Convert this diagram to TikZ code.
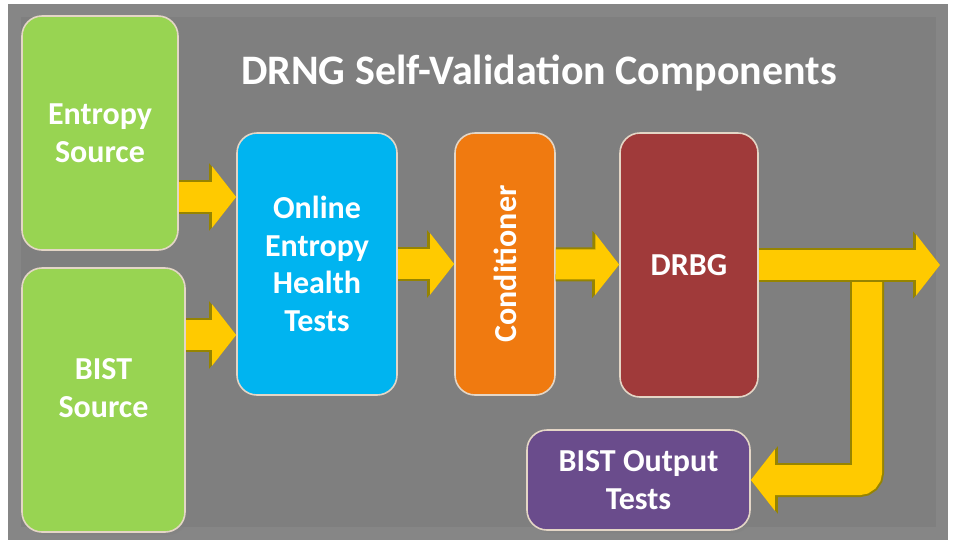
\documentclass[tikz,border=0pt]{standalone}
\usepackage{fontspec}
\setmainfont{Carlito}
\usetikzlibrary{arrows.meta,shadows}

\definecolor{framegray}{RGB}{134,134,134}
\definecolor{panelgray}{RGB}{127,127,127}
\definecolor{boxedge}{RGB}{228,214,198}
\definecolor{srcgreen}{RGB}{152,212,82}
\definecolor{testblue}{RGB}{0,180,240}
\definecolor{condorange}{RGB}{240,122,16}
\definecolor{drbgred}{RGB}{160,58,58}
\definecolor{outpurple}{RGB}{106,76,140}
\definecolor{arrowyellow}{RGB}{255,202,0}
\definecolor{arrowedge}{RGB}{150,132,0}

\begin{document}
\begin{tikzpicture}[x=0.5pt,y=-0.5pt,
    boxfont/.style={text=white, font=\bfseries\fontsize{16}{18.75}\selectfont, align=center},
    box/.style={boxfont, draw=boxedge, line width=0.8pt, rounded corners=10pt, inner sep=0pt,
        drop shadow={opacity=0.35, shadow xshift=1.5pt, shadow yshift=-1.5pt}},
    flow/.style={line width=15pt, color=arrowyellow, -{Triangle[width=30pt,length=12pt]},
        preaction={draw=arrowedge, line width=17pt, -{Triangle[width=33pt,length=13.5pt]}}}]
        \useasboundingbox (0,0) rectangle (954,548);

        % Draw the panel
        \fill[white] (0,0) rectangle (954,548);
        \fill[framegray] (8,4) rectangle (948,540);
        \fill[panelgray] (21,17) rectangle (936,527);

        % Draw the title
        \node[text=white, font=\bfseries\fontsize{21}{24}\selectfont] (ttl) at (539,73) {DRNG Self-Validation Components};

        % Draw the blocks
        \node[box, fill=srcgreen, minimum width=78pt, minimum height=117pt] (ent) at (100,133) {Entropy\\Source};
        \node[box, fill=srcgreen, minimum width=81.5pt, minimum height=132pt,
            label={[boxfont, yshift=6pt]center:BIST\\Source}] (bsrc) at (103.5,400) {};
        \node[box, fill=testblue, minimum width=80pt, minimum height=131pt] (oeht) at (317,264) {Online\\Entropy\\Health\\Tests};
        \node[box, fill=condorange, minimum width=50pt, minimum height=131pt] (cond) at (505,264) {\rotatebox{90}{Conditioner}};
        \node[box, fill=drbgred, minimum width=69pt, minimum height=132pt] (drbg) at (689,265) {DRBG};
        \node[box, fill=outpurple, minimum width=111.5pt, minimum height=50pt] (bout) at (638.5,480) {BIST Output\\Tests};

        % Draw the arrows
        \coordinate (out) at (940,265);
        \coordinate (tap) at (867,265);
        \draw[flow] ([yshift=-32pt]ent.east) -- ([yshift=-32pt]ent.east -| oeht.west);
        \draw[flow] ([yshift=32.5pt]bsrc.east) -- ([yshift=32.5pt]bsrc.east -| oeht.west);
        \draw[flow] (oeht) -- (cond);
        \draw[flow] (cond) -- (drbg);
        \draw[flow, rounded corners=4pt] (tap) |- (bout.east);
        \draw[flow] (drbg.east) -- (out);

        \end{tikzpicture}
\end{document}
